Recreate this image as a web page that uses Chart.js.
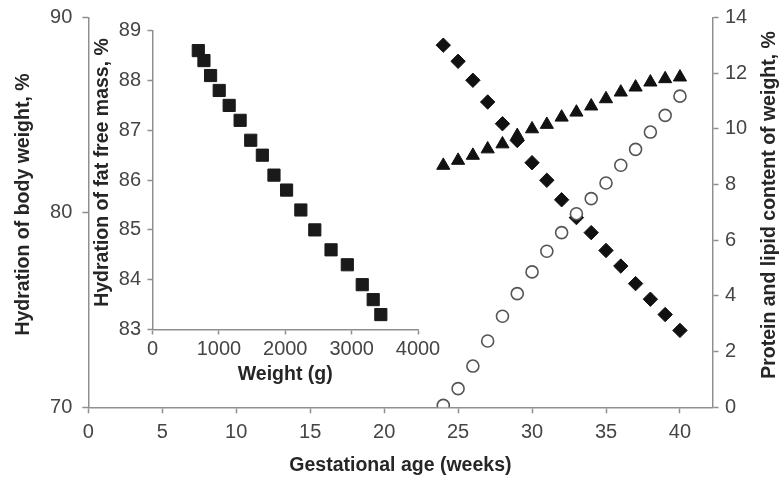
<!DOCTYPE html>
<html><head><meta charset="utf-8">
<script src="https://cdn.jsdelivr.net/npm/chart.js@4.4.1/dist/chart.umd.min.js"></script>
<style>
html,body{margin:0;padding:0;background:#fff;}
#wrap{position:relative;width:783px;height:481px;overflow:hidden;background:#fff;}
#main{position:absolute;left:0;top:0;}
#inset{position:absolute;left:80px;top:0;}
</style></head><body>
<div id="wrap">
<canvas id="main" width="783" height="481"></canvas>
<canvas id="inset" width="360" height="400"></canvas>
</div>
<script>
// ---- Data ----
const weeks = [24,25,26,27,28,29,30,31,32,33,34,35,36,37,38,39,40];
const diamondSeries = [13.0,12.42,11.74,10.96,10.18,9.58,8.78,8.15,7.45,6.81,6.27,5.63,5.07,4.44,3.88,3.33,2.76];
const triangleSeries = [8.68,8.86,9.04,9.27,9.45,9.75,9.99,10.15,10.41,10.59,10.81,11.07,11.31,11.49,11.67,11.79,11.85];
const circleSeries = [0.07,0.67,1.48,2.38,3.27,4.08,4.86,5.6,6.27,6.95,7.49,8.05,8.69,9.26,9.88,10.48,11.17];

const insetWeights = [690,775,875,1005,1155,1320,1480,1655,1830,2020,2235,2445,2690,2935,3160,3325,3440];
const insetHydration = [88.6,88.4,88.1,87.8,87.5,87.2,86.8,86.5,86.1,85.8,85.4,85.0,84.6,84.3,83.9,83.6,83.3];

const mainXTicks = [0,5,10,15,20,25,30,35,40];
const mainYTicks = [70,80,90];
const rightYTicks = [0,2,4,6,8,10,12,14];
const insetXTicks = [0,1000,2000,3000,4000];
const insetYTicks = [83,84,85,86,87,88,89];

const titles = {
  x: 'Gestational age (weeks)',
  y: 'Hydration of body weight, %',
  y2: 'Protein and lipid content of weight, %',
  insetX: 'Weight (g)',
  insetY: 'Hydration of fat free mass, %'
};

// ---- Styling helpers ----
const FONT = '"Liberation Sans", Arial, sans-serif';
const AXIS = '#8f8f8f';
const TICKTXT = '#454545';
const TITLETXT = '#262626';
const tickFont = {family: FONT, size: 20};
const titleFont = {family: FONT, size: 19.5, weight: 'bold'};

function fixed(w, h) {
  return function (s) {
    if (w != null) s.width = w;
    if (h != null) s.height = h;
    s.paddingLeft = 0; s.paddingRight = 0; s.paddingTop = 0; s.paddingBottom = 0;
  };
}
function setTicks(values) {
  return function (s) { s.ticks = values.map(v => ({value: v})); };
}
function grid(len) {
  return {display: true, drawOnChartArea: false, drawTicks: true, tickLength: len, tickColor: AXIS, tickWidth: 1.5};
}
const plain = v => String(v);
const border = {display: true, color: AXIS, width: 1.5};

const verticalTitles = {
  id: 'verticalTitles',
  afterDraw(chart, args, opts) {
    const ctx = chart.ctx;
    (opts.items || []).forEach(it => {
      ctx.save();
      ctx.translate(it.x, it.y);
      ctx.rotate(-Math.PI / 2);
      ctx.font = 'bold 19.5px ' + FONT;
      ctx.fillStyle = TITLETXT;
      ctx.textAlign = 'center';
      ctx.textBaseline = 'middle';
      ctx.fillText(it.text, 0, 0);
      ctx.restore();
    });
  }
};

// ---- Main chart ----
new Chart(document.getElementById('main'), {
  type: 'scatter',
  data: {
    datasets: [
      {
        label: 'Circles', yAxisID: 'y2',
        data: weeks.map((w, i) => ({x: w, y: circleSeries[i]})),
        pointStyle: 'circle', pointRadius: 6, pointHoverRadius: 6,
        backgroundColor: '#ffffff', borderColor: '#555555', borderWidth: 1.6
      },
      {
        label: 'Diamonds', yAxisID: 'y2',
        data: weeks.map((w, i) => ({x: w, y: diamondSeries[i]})),
        pointStyle: 'rectRot', pointRadius: 7.2, pointHoverRadius: 7.2,
        backgroundColor: '#111111', borderColor: '#111111', borderWidth: 1
      },
      {
        label: 'Triangles', yAxisID: 'y2',
        data: weeks.map((w, i) => ({x: w, y: triangleSeries[i]})),
        pointStyle: 'triangle', pointRadius: 7.6, pointHoverRadius: 7.6,
        backgroundColor: '#111111', borderColor: '#111111', borderWidth: 1
      }
    ]
  },
  options: {
    responsive: false, animation: false, devicePixelRatio: 1,
    layout: {padding: {left: 0, right: 0, top: 17.3, bottom: 0}},
    plugins: {
      legend: {display: false}, tooltip: {enabled: false},
      verticalTitles: {items: [
        {text: titles.y, x: 23.5, y: 204.5},
        {text: titles.y2, x: 770, y: 205}
      ]}
    },
    scales: {
      x: {
        type: 'linear', position: 'bottom', min: 0, max: 42.2,
        afterBuildTicks: setTicks(mainXTicks), afterFit: fixed(null, 73.7),
        grid: grid(6), border: border,
        ticks: {font: tickFont, color: TICKTXT, padding: 6.7, maxRotation: 0, callback: plain},
        title: {display: true, text: titles.x, font: titleFont, color: TITLETXT, padding: {top: 0, bottom: 3.6}}
      },
      y: {
        type: 'linear', position: 'left', min: 70, max: 90,
        afterBuildTicks: setTicks(mainYTicks), afterFit: fixed(88.3, null),
        grid: grid(6), border: border,
        ticks: {font: tickFont, color: TICKTXT, padding: 10, callback: plain}
      },
      y2: {
        type: 'linear', position: 'right', min: 0, max: 14,
        afterBuildTicks: setTicks(rightYTicks), afterFit: fixed(70.5, null),
        grid: grid(6), border: border,
        ticks: {font: tickFont, color: TICKTXT, padding: 6.5, callback: plain}
      }
    }
  },
  plugins: [verticalTitles]
});

// ---- Inset chart ----
new Chart(document.getElementById('inset'), {
  type: 'scatter',
  data: {
    datasets: [{
      label: 'Squares',
      data: insetWeights.map((w, i) => ({x: w, y: insetHydration[i]})),
      pointStyle: 'rect', pointRadius: 8.6, pointHoverRadius: 8.6,
      backgroundColor: '#1a1a1a', borderColor: '#1a1a1a', borderWidth: 1
    }]
  },
  options: {
    responsive: false, animation: false, devicePixelRatio: 1,
    layout: {padding: {left: 0, right: 22, top: 30.7, bottom: 0}},
    plugins: {
      legend: {display: false}, tooltip: {enabled: false},
      verticalTitles: {items: [{text: titles.insetY, x: 23, y: 172.5}]}
    },
    scales: {
      x: {
        type: 'linear', position: 'bottom', min: 0, max: 4000,
        afterBuildTicks: setTicks(insetXTicks), afterFit: fixed(null, 70.5),
        grid: grid(5), border: border,
        ticks: {font: tickFont, color: TICKTXT, padding: 2.5, maxRotation: 0, callback: plain},
        title: {display: true, text: titles.insetX, font: titleFont, color: TITLETXT, padding: {top: 0, bottom: 13.6}}
      },
      y: {
        type: 'linear', position: 'left', min: 83, max: 89,
        afterBuildTicks: setTicks(insetYTicks), afterFit: fixed(72.5, null),
        grid: grid(5), border: border,
        ticks: {font: tickFont, color: TICKTXT, padding: 6.5, callback: plain}
      }
    }
  },
  plugins: [verticalTitles]
});
</script>
</body></html>
